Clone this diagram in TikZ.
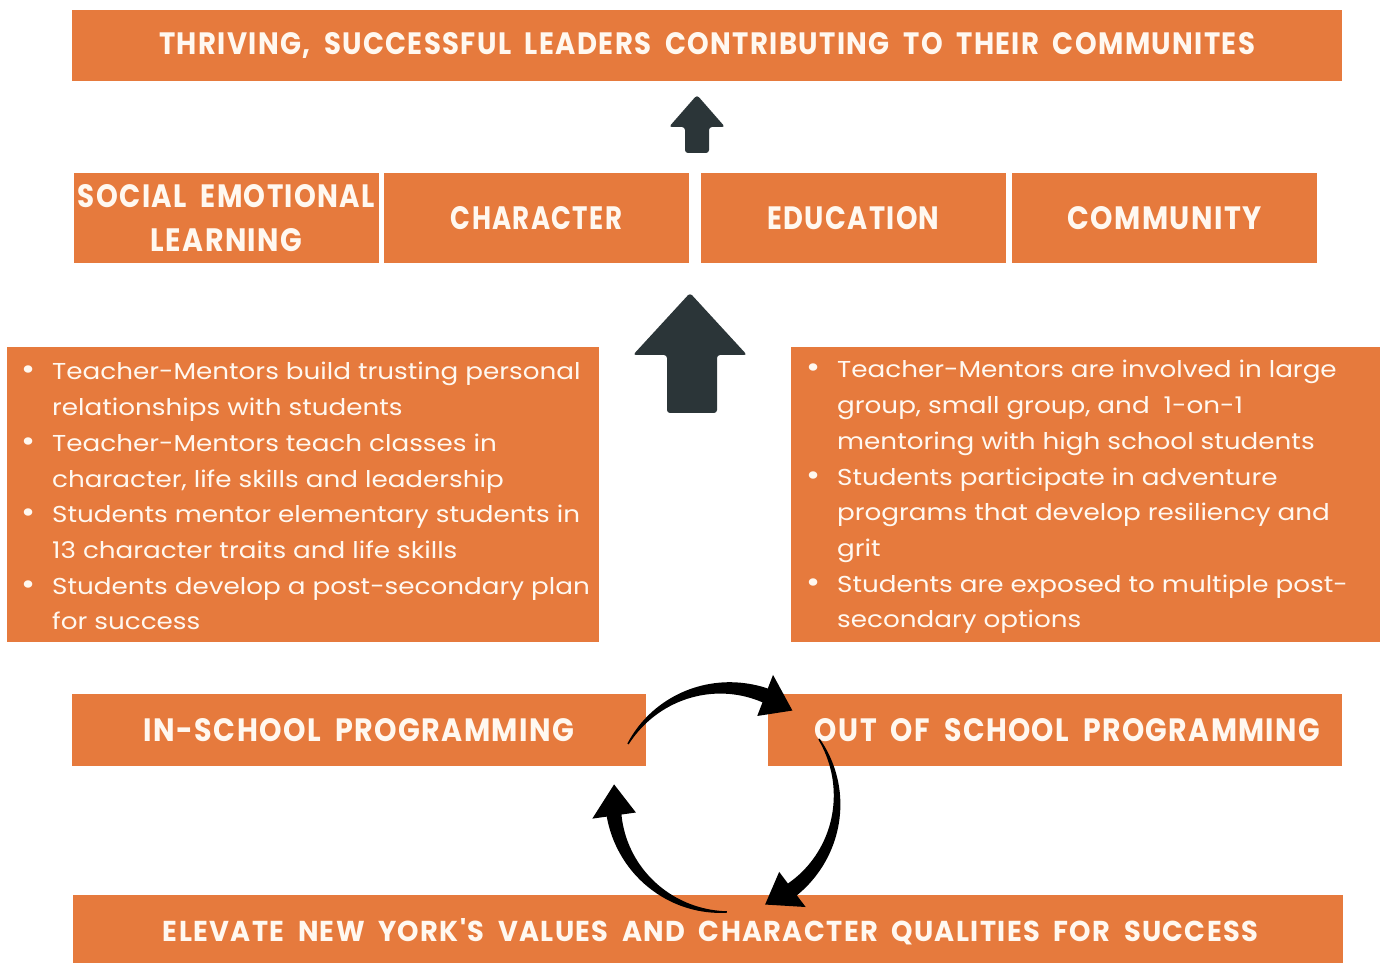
\documentclass[tikz,border=0pt]{standalone}
\usepackage{fontspec}
\setmainfont{Poppins}
\newfontfamily\bodyf[FakeStretch=1.14]{Poppins}
\newfontfamily\hdf[Ligatures=TeXOff,LetterSpace=5,WordSpace=1.9]{Poppins}
\usetikzlibrary{calc}
\definecolor{org}{HTML}{E67A3D}
\definecolor{slate}{HTML}{2B3538}
\definecolor{txt}{HTML}{FFF8F0}
\newcommand{\hd}[3]{\resizebox{#1pt}{#2pt}{\hdf\bfseries #3}}
\newcommand{\bl}{\llap{{\fontsize{30}{30}\selectfont\textbullet}\hspace{17pt}}}
\tikzset{
  box/.style={fill=org, inner sep=0pt, text=txt, anchor=center},
  bodyline/.style={anchor=base west, inner sep=0pt, text=txt, font=\bodyf\fontsize{23}{26}\selectfont},
  darrow/.style={fill=slate, rounded corners=3pt},
  carrow/.style={fill=black}
}
\begin{document}
\begin{tikzpicture}[x=1pt,y=1pt]
\useasboundingbox (0,0) rectangle (1382,963);
\clip (0,0) rectangle (1382,963);
\fill[white] (0,0) rectangle (1382,963);

% top goal
\node[box, minimum width=1270pt, minimum height=71pt] (goal) at (707,917.5)
  {\hd{1096}{22}{THRIVING, SUCCESSFUL LEADERS CONTRIBUTING TO THEIR COMMUNITES}};

% four pillars
\node[box, minimum width=305pt, minimum height=90pt, align=center,
      font=\fontsize{10}{44}\selectfont] (sel) at (226.5,745)
  {\hd{297}{23}{SOCIAL EMOTIONAL}\\\hd{151}{23}{LEARNING}};
\node[box, minimum width=305pt, minimum height=90pt] (char) at (536.5,745)
  {\hd{171}{23}{CHARACTER}};
\node[box, minimum width=305pt, minimum height=90pt] (edu) at (853.5,745)
  {\hd{172}{23}{EDUCATION}};
\node[box, minimum width=305pt, minimum height=90pt] (comm) at (1164.5,745)
  {\hd{194}{23}{COMMUNITY}};

% small arrow
\fill[darrow] (685,810) -- (709,810) -- (709,836) -- (725,836) -- (697,868)
  -- (669,836) -- (685,836) -- cycle;
% large arrow
\fill[darrow] (667,550) -- (717,550) -- (717,608) -- (747,608) -- (690,670)
  -- (633,608) -- (667,608) -- cycle;

% bullet boxes
\node[box, minimum width=592pt, minimum height=295pt] (inlist) at (303,468.5) {};
\node[box, minimum width=589pt, minimum height=295pt] (outlist) at (1085.5,468.5) {};

\foreach \i/\t in {1/{\bl Teacher-Mentors build trusting personal},
                   2/{relationships with students},
                   3/{\bl Teacher-Mentors teach classes in},
                   4/{character, life skills and leadership},
                   5/{\bl Students mentor elementary students in},
                   6/{13 character traits and life skills},
                   7/{\bl Students develop a post-secondary plan},
                   8/{for success}}
  \node[bodyline] (inl\i) at (52,{583-(\i-1)*35.7}) {\t};

\foreach \i/\t in {1/{\bl Teacher-Mentors are involved in large},
                   2/{group, small group, and\ \ 1-on-1},
                   3/{mentoring with high school students},
                   4/{\bl Students participate in adventure},
                   5/{programs that develop resiliency and},
                   6/{grit},
                   7/{\bl Students are exposed to multiple post-},
                   8/{secondary options}}
  \node[bodyline] (outl\i) at (837,{585-(\i-1)*35.7}) {\t};

% programming boxes
\node[box, minimum width=574pt, minimum height=72pt] (insch) at (359,233)
  {\hd{430}{23}{IN-SCHOOL PROGRAMMING}};
\node[box, minimum width=574pt, minimum height=72pt] (outsch) at (1055,233) {};
\node[inner sep=0pt, text=txt] (outschT) at (1067.5,233)
  {\hd{505}{23}{OUT OF SCHOOL PROGRAMMING}};

% bottom values
\node[box, minimum width=1270pt, minimum height=76pt] (values) at (708,30) {};
\node[inner sep=0pt, text=txt] (valuesT) at (710.5,31)
  {\hd{1095}{23}{ELEVATE NEW YORK'S VALUES AND CHARACTER QUALITIES FOR SUCCESS}};

% cycle arrows (tapered arcs, clockwise)
\coordinate (c) at (725,163);
\def\R{112}
\foreach \a/\b in {150/68, 33/-54, 271/187}{
  \fill[carrow]
    plot[domain=\a:\b, samples=40]
      ({725+(\R+0.5*(1.5+13.5*(\x-\a)/(\b-\a)))*cos(\x)},
       {163+(\R+0.5*(1.5+13.5*(\x-\a)/(\b-\a)))*sin(\x)})
    -- plot[domain=\b:\a, samples=40]
      ({725+(\R-0.5*(1.5+13.5*(\x-\a)/(\b-\a)))*cos(\x)},
       {163+(\R-0.5*(1.5+13.5*(\x-\a)/(\b-\a)))*sin(\x)})
    -- cycle;
  \fill[carrow] ($(c)+(\b+1:\R-22)$) -- ($(c)+(\b+1:\R+22)$)
    -- ($(c)+(\b-15:\R)$) -- cycle;
}
\end{tikzpicture}
\end{document}
